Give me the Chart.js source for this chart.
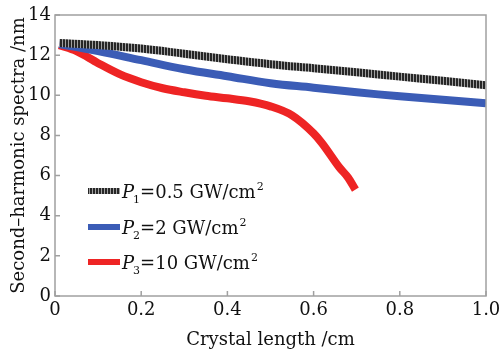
<!DOCTYPE html>
<html>
<head>
<meta charset="utf-8">
<script src="https://cdn.jsdelivr.net/npm/chart.js@4"></script>
<style>
  html, body { margin: 0; padding: 0; background: #fff; }
</style>
</head>
<body>
<canvas id="chart" width="499" height="351"></canvas>
<script>
// values
const xTicks = [0, 0.2, 0.4, 0.6, 0.8, 1.0];
const yTicks = [0, 2, 4, 6, 8, 10, 12, 14];

const p1X = [0.01, 0.1, 0.2, 0.3, 0.4, 0.5, 0.6, 0.7, 0.8, 0.9, 1.0];
const p1Y = [12.6, 12.5, 12.33, 12.07, 11.8, 11.55, 11.35, 11.15, 10.93, 10.72, 10.5];

const p2X = [0.01, 0.1, 0.2, 0.3, 0.4, 0.5, 0.6, 0.7, 0.8, 0.9, 1.0];
const p2Y = [12.55, 12.2, 11.75, 11.3, 10.95, 10.6, 10.38, 10.15, 9.95, 9.78, 9.6];

const p3X = [0.01, 0.05, 0.1, 0.15, 0.2, 0.25, 0.3, 0.35, 0.4, 0.45, 0.5, 0.55, 0.6, 0.62, 0.66, 0.68, 0.697];
const p3Y = [12.5, 12.2, 11.6, 11.05, 10.65, 10.35, 10.15, 9.98, 9.85, 9.7, 9.45, 9.0, 8.1, 7.6, 6.4, 5.9, 5.3];

const legendLabels = [
    { sub: '1', text: '=0.5 GW/cm' },
    { sub: '2', text: '=2 GW/cm' },
    { sub: '3', text: '=10 GW/cm' }
];

const FONT = "'DejaVu Serif', serif";

// striped stroke for the black curve
function stripePattern(ctx) {
    const c = document.createElement('canvas');
    c.width = 3; c.height = 3;
    const g = c.getContext('2d');
    g.fillStyle = '#a0a0a0';
    g.fillRect(0, 0, 3, 3);
    g.fillStyle = '#262626';
    g.fillRect(0, 0, 2, 3);
    return ctx.createPattern(c, 'repeat');
}

const ctx = document.getElementById('chart').getContext('2d');
const blackStroke = stripePattern(ctx);

function pts(xs, ys) {
    return xs.map((x, i) => ({ x: x, y: ys[i] }));
}

// frame + inward tick marks
const framePlugin = {
    id: 'frame',
    afterDatasetsDraw(chart) {
        const { ctx, chartArea: a, scales } = chart;
        ctx.save();
        ctx.strokeStyle = '#a0a0a0';
        ctx.lineWidth = 1.5;
        ctx.strokeRect(a.left, a.top, a.right - a.left, a.bottom - a.top);
        ctx.beginPath();
        xTicks.forEach(v => {
            const px = scales.x.getPixelForValue(v);
            ctx.moveTo(px, a.bottom);
            ctx.lineTo(px, a.bottom - 5);
        });
        yTicks.forEach(v => {
            const py = scales.y.getPixelForValue(v);
            ctx.moveTo(a.left, py);
            ctx.lineTo(a.left + 5, py);
        });
        ctx.stroke();
        ctx.restore();
    }
};

// legend with subscripts / superscripts
const legendPlugin = {
    id: 'customLegend',
    afterDraw(chart) {
        const { ctx } = chart;
        const styles = [blackStroke, '#3b5cb6', '#ee2424'];
        const rows = [191, 227, 262];
        ctx.save();
        rows.forEach((y, i) => {
            ctx.strokeStyle = styles[i];
            ctx.lineWidth = 6;
            ctx.beginPath();
            ctx.moveTo(88, y);
            ctx.lineTo(120, y);
            ctx.stroke();

            ctx.fillStyle = '#111';
            ctx.textBaseline = 'alphabetic';
            let x = 122;
            const base = y + 7;
            ctx.font = 'italic 18px ' + FONT;
            ctx.fillText('P', x, base);
            x += ctx.measureText('P').width - 1;
            ctx.font = '11px ' + FONT;
            ctx.fillText(legendLabels[i].sub, x, base + 5);
            x += ctx.measureText(legendLabels[i].sub).width;
            ctx.font = '18px ' + FONT;
            ctx.fillText(legendLabels[i].text, x, base);
            x += ctx.measureText(legendLabels[i].text).width;
            ctx.font = '11px ' + FONT;
            ctx.fillText('2', x + 1, base - 8);
        });
        ctx.restore();
    }
};

new Chart(ctx, {
    type: 'line',
    data: {
        datasets: [
            {
                label: 'P1=0.5 GW/cm2',
                data: pts(p1X, p1Y),
                borderColor: blackStroke,
                borderWidth: 8,
                pointRadius: 0,
                tension: 0.4,
                fill: false
            },
            {
                label: 'P2=2 GW/cm2',
                data: pts(p2X, p2Y),
                borderColor: '#3b5cb6',
                borderWidth: 8,
                pointRadius: 0,
                tension: 0.4,
                fill: false
            },
            {
                label: 'P3=10 GW/cm2',
                data: pts(p3X, p3Y),
                borderColor: '#ee2424',
                borderWidth: 8,
                pointRadius: 0,
                tension: 0.4,
                cubicInterpolationMode: 'monotone',
                fill: false
            }
        ]
    },
    options: {
        responsive: false,
        animation: false,
        layout: {
            padding: { top: 15, right: 13, left: 0, bottom: 0 }
        },
        plugins: {
            legend: { display: false },
            tooltip: { enabled: false }
        },
        scales: {
            x: {
                type: 'linear',
                min: 0,
                max: 1,
                afterBuildTicks: axis => { axis.ticks = xTicks.map(v => ({ value: v })); },
                afterFit: axis => {
                    axis.height = 55;
                    axis.paddingLeft = 0;
                    axis.paddingRight = 0;
                },
                grid: { display: false, drawTicks: false },
                border: { display: false },
                ticks: {
                    color: '#111',
                    padding: 4,
                    font: { family: FONT, size: 18 },
                    callback: v => (v === 0 ? '0' : v.toFixed(1))
                },
                title: {
                    display: true,
                    text: 'Crystal length /cm',
                    color: '#111',
                    padding: { top: 5, bottom: 0 },
                    font: { family: FONT, size: 18 }
                }
            },
            y: {
                min: 0,
                max: 14,
                afterBuildTicks: axis => { axis.ticks = yTicks.map(v => ({ value: v })); },
                afterFit: axis => {
                    axis.width = 55;
                    axis.paddingTop = 0;
                    axis.paddingBottom = 0;
                },
                grid: { display: false, drawTicks: false },
                border: { display: false },
                ticks: {
                    color: '#111',
                    padding: 4,
                    font: { family: FONT, size: 18 },
                    callback: v => String(v)
                },
                title: {
                    display: true,
                    text: 'Second\u2013harmonic spectra /nm',
                    color: '#111',
                    padding: { top: 9, bottom: 0 },
                    font: { family: FONT, size: 18 }
                }
            }
        }
    },
    plugins: [framePlugin, legendPlugin]
});
</script>
</body>
</html>
